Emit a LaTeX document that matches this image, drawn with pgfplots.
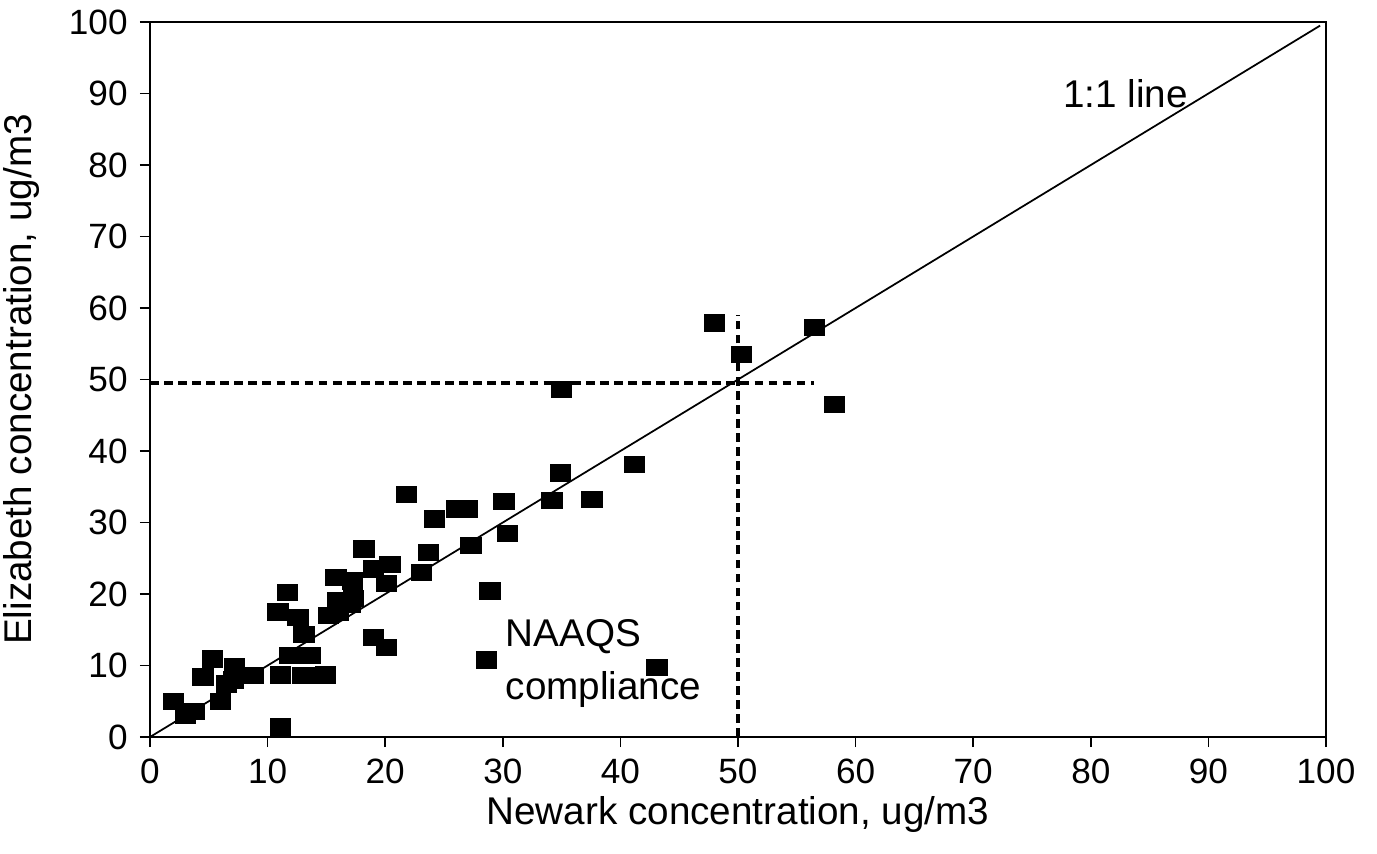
\documentclass[border=0pt]{standalone}
\usepackage{fontspec}
\setmainfont{Liberation Sans}
\usepackage{pgfplots}
\pgfplotsset{compat=1.18}
\begin{document}
\begin{tikzpicture}
\path[use as bounding box] (-15mm,-11.6mm) rectangle (122.7mm,73.7mm);
\begin{axis}[
  scale only axis,
  width=117.6mm, height=71.5mm,
  at={(0,0)}, anchor=south west,
  xmin=0, xmax=100, ymin=0, ymax=100,
  xtick={0,10,...,100}, ytick={0,10,...,100},
  tick align=outside,
  major tick length=1.0mm,
  tick style={black, line width=0.5pt},
  axis line style={line width=0.6pt},
  xtick pos=bottom, ytick pos=left,
  /pgf/number format/assume math mode=true,
  tick label style={font=\fontsize{10}{12}\selectfont},
  xlabel={Newark concentration, ug/m3},
  ylabel={Elizabeth concentration, ug/m3},
  label style={font=\fontsize{11}{13}\selectfont},
  xlabel style={at={(axis description cs:0.5,-0.109)}, anchor=center},
  ylabel style={at={(axis description cs:-0.109,0.5)}, anchor=center},
  clip=false,
]
\addplot[black, line width=0.5pt] coordinates {(0,0) (99.5,99.5)};
\addplot[black, line width=1.1pt, dash pattern=on 2.5pt off 1.5pt] coordinates {(0,49.5) (56.5,49.5)};
\addplot[black, line width=1.1pt, dash pattern=on 2.5pt off 1.5pt] coordinates {(50,0) (50,59)};
\addplot[only marks, mark=square*, mark size=0.8mm, mark options={fill=black, draw=black, xscale=1.25}] coordinates {
(2.0,5.0) (3.0,3.0) (3.8,3.6) (4.5,8.4) (5.3,10.9) (6.0,5.0) (6.5,7.4)
(7.2,9.9) (7.1,8.0) (8.8,8.6) (11.1,1.4) (11.1,8.7) (13.0,8.6) (14.0,8.6)
(14.9,8.7) (11.9,11.4) (13.6,11.4) (13.1,14.3) (12.6,16.7) (10.9,17.5)
(11.7,20.2) (15.2,17.0) (16.0,19.1) (17.0,18.6) (16.0,17.5) (17.3,19.4)
(15.8,22.3) (17.2,21.8) (18.2,26.3) (19.0,23.5) (20.4,24.1) (20.1,21.5)
(19.0,13.9) (20.1,12.5) (21.8,33.9) (24.2,30.5) (23.7,25.8) (23.1,23.0)
(26.1,31.9) (27.0,31.9) (27.3,26.8) (28.9,20.4) (28.6,10.8) (30.1,32.9)
(30.4,28.5) (34.2,33.1) (34.9,36.9) (35.0,48.6) (37.6,33.2) (41.2,38.1)
(43.1,9.7) (48.0,57.9) (50.3,53.5) (56.5,57.3) (58.2,46.5)
};
\node[anchor=west, font=\fontsize{11}{13}\selectfont] at (axis cs:76.6,90) {1:1 line};
\node[anchor=west, font=\fontsize{11}{13}\selectfont] at (axis cs:29.2,14.0) {NAAQS};
\node[anchor=west, font=\fontsize{11}{13}\selectfont] at (axis cs:29.2,6.6) {compliance};
\end{axis}
\end{tikzpicture}
\end{document}
